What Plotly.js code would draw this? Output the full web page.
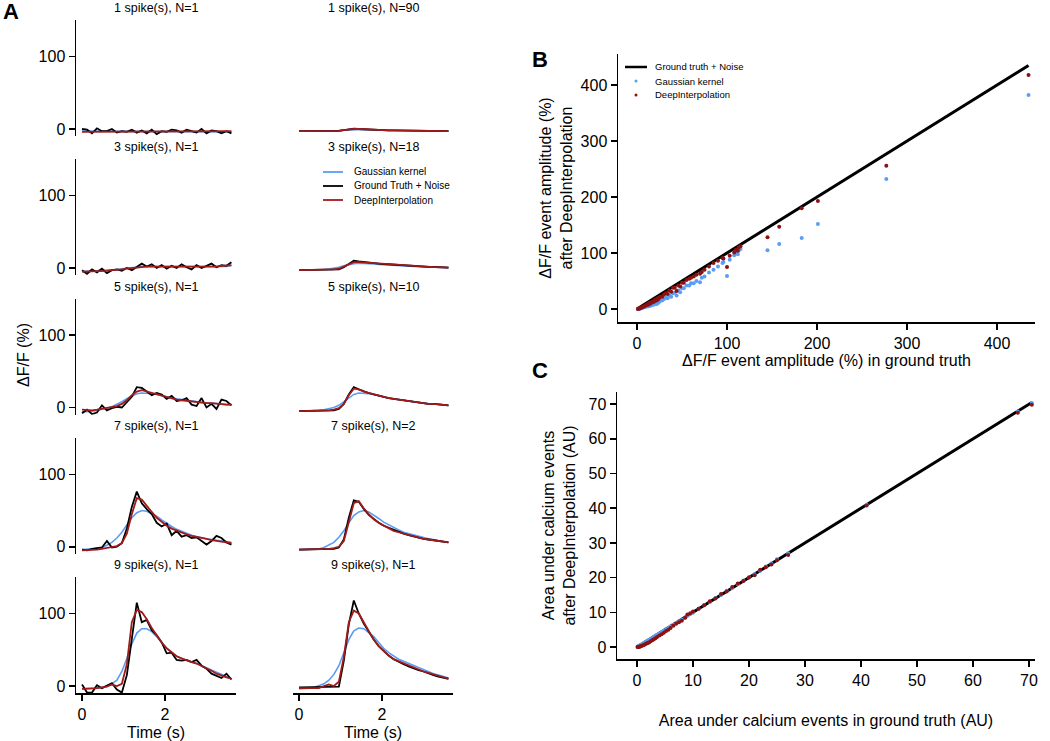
<!DOCTYPE html>
<html><head><meta charset="utf-8">
<script src="https://cdn.plot.ly/plotly-3.0.1.min.js"></script>
<style>html,body{margin:0;padding:0;background:#fff}</style>
</head><body><div id="chart" style="width:1050px;height:741px"></div>
<script>
// ---------- Panel A data ----------
const time = [0,0.12,0.24,0.36,0.48,0.6,0.72,0.84,0.96,1.08,1.2,1.32,1.44,1.56,1.68,1.8,1.92,2.04,2.16,2.28,2.4,2.52,2.64,2.76,2.88,3.0,3.12,3.24,3.36,3.48,3.6];
const titlesLeft = ['1 spike(s), N=1','3 spike(s), N=1','5 spike(s), N=1','7 spike(s), N=1','9 spike(s), N=1'];
const titlesRight = ['1 spike(s), N=90','3 spike(s), N=18','5 spike(s), N=10','7 spike(s), N=2','9 spike(s), N=1'];
const seriesNamesA = ['Gaussian kernel','Ground Truth + Noise','DeepInterpolation'];

// Ground truth + noise (black)
const gt_L1 = [0,-1,-6,1,-3,-3,0,-5,-3,-4,-1,-5,-2,-6,-1,-7,-3,-4,-1,-2,-5,-1,-3,-5,0,-6,-2,-3,-6,-3,-6];
const gt_R1 = [-3,-3,-3,-3,-3,-3,-3,-3,-2.5,-1.5,0,0.5,0,-0.5,-1,-1.5,-1.5,-2,-2,-2,-2,-2.5,-2.5,-2.5,-2.5,-2.5,-2.5,-3,-3,-3,-3];
const gt_L2 = [-3,-8,-2,-6,-1,-7,-3,-2,-4,0,-3,2,6,2,5,0,4,-1,3,0,5,1,-2,4,0,3,6,1,4,3,8];
const gt_R2 = [-3,-3,-3,-3,-3,-3,-3,-2.5,-2,1,6,10,9,8,7,6.5,6,5.5,5,4.5,4,3.5,3,2.5,2,2,1.5,1.5,1,1,0.5];
const gt_L3 = [-8,-3,-9,-7,3,-4,-1,1,0,8,15,28,27,22,17,20,18,12,16,9,10,13,4,2,13,0,5,-2,11,9,3];
const gt_R3 = [-5,-5,-5,-5,-5,-5,-5,-4,-2,5,18,28,25,22,20,18,16,14,13,12,11,10,9,8,7,6,5,5,4,4,3];
const gt_L4 = [-4,-5,-3,-2,-1,8,-1,0,5,25,55,76,60,52,45,33,28,32,16,22,14,16,12,13,8,3,8,15,12,6,3];
const gt_R4 = [-4,-4,-4,-4,-4,-4,-3,-3,-1,10,40,64,62,52,44,38,33,29,26,23,20,18,16,14,13,11,10,9,8,7,6];
const gt_L5 = [2,-9,-9,1,-3,1,4,-5,-9,15,62,115,88,91,77,70,60,45,46,36,35,36,33,36,28,24,17,14,11,17,9];
const gt_R5 = [-2,-2,-2,-2,-2,-2,-2,-2,-1,35,85,118,100,86,74,64,55,48,42,37,33,30,27,24,22,20,17,15,13,11,10];
// DeepInterpolation (red)
const di_L1 = [-4,-4,-4,-4,-4,-4,-4,-4,-4,-3.5,-3.5,-3.5,-3.5,-3.5,-3.5,-3.5,-3.5,-3.5,-3,-3,-3,-3,-3,-3,-3,-3,-3,-3,-3,-3,-3];
const di_R1 = [-3,-3,-3,-3,-3,-3,-3,-3,-2.5,-1.5,-0.5,0,0,-0.5,-1,-1.5,-1.5,-2,-2,-2,-2,-2.5,-2.5,-2.5,-2.5,-2.5,-2.5,-3,-3,-3,-3];
const di_L2 = [-5,-5,-5,-4,-4,-4,-3,-3,-2,-1,0,1,2,2,2,2,2,2,2,1,1,1,1,1,1,2,2,2,3,3,4];
const di_R2 = [-3,-3,-3,-3,-3,-3,-2.5,-2,-1,2,6,8,8,7.5,7,6.5,6,5.5,5,4.5,4,3.5,3,2.5,2,2,1.5,1.5,1,1,0.5];
const di_L3 = [-3,-4,-4,-3,-2,-1,0,2,5,10,17,22,24,22,20,18,16,14,12,11,10,9,8,7,7,6,6,5,5,4,4];
const di_R3 = [-5,-5,-5,-5,-5,-5,-4,-3,-1,5,17,26,25,22,20,18,16,14,13,12,11,10,9,8,7,6,5,5,4,4,3];
const di_L4 = [-5,-5,-4,-4,-3,-2,-1,1,5,18,45,67,65,56,48,40,34,29,25,22,19,17,15,14,12,11,9,8,7,6,5];
const di_R4 = [-4,-4,-4,-4,-4,-4,-3,-2,0,8,36,60,63,53,45,38,33,29,25,22,20,18,16,14,13,11,10,9,8,7,6];
const di_L5 = [-4,-4,-3,-3,-2,-1,2,0,3,30,88,105,102,92,80,70,60,52,46,41,38,35,33,31,28,25,21,17,14,12,10];
const di_R5 = [-3,-3,-3,-3,-3,0,2,0,6,40,88,104,100,88,75,64,55,48,42,37,34,31,29,26,22,20,18,16,14,12,10];
// Gaussian kernel (blue)
const gk_L1 = [-3,-3,-3.5,-3.5,-3.5,-4,-4,-4,-4,-4,-4,-4,-3.5,-3.5,-3.5,-3.5,-3.5,-3.5,-3.5,-3.5,-3.5,-3,-3,-3,-3,-3,-3.5,-3.5,-3.5,-4,-4];
const gk_R1 = [-3,-3,-3,-3,-3,-3,-3,-2.5,-2,-1.5,-1,-0.5,-0.5,-0.5,-1,-1.5,-1.5,-2,-2,-2,-2,-2.5,-2.5,-2.5,-2.5,-2.5,-2.5,-3,-3,-3,-3];
const gk_L2 = [-5,-5,-4,-4,-3,-3,-2,-2,-1,0,1,1,2,2,2,2,2,1,1,1,1,1,1,1,1,1,2,2,2,2,3];
const gk_R2 = [-3,-3,-3,-3,-2.5,-2,-1.5,-0.5,1,3,5,6,6.5,6.5,6,5.5,5,4.5,4,3.5,3,3,2.5,2,2,1.5,1.5,1,1,0.5,0.5];
const gk_L3 = [-6,-6,-5,-4,-3,-1,1,4,8,12,16,19,20,20,19,18,16,15,13,12,11,10,9,8,7,6,6,5,5,4,4];
const gk_R3 = [-5,-5,-5,-4,-4,-3,-2,0,3,8,13,18,20,20,19,18,16,15,13,12,11,10,9,8,7,6,5,5,4,4,3];
const gk_L4 = [-4,-4,-3,-2,-1,2,6,12,20,30,40,47,50,49,46,42,37,32,28,24,21,18,16,14,12,11,10,9,8,7,6];
const gk_R4 = [-4,-4,-4,-3,-3,-1,2,6,13,22,33,43,48,50,48,44,39,34,30,26,23,20,18,16,14,12,11,10,8,7,6];
const gk_L5 = [-4,-4,-3,-3,-2,0,3,8,20,38,58,73,79,79,75,68,60,52,46,41,38,35,33,31,28,25,21,18,15,12,10];
const gk_R5 = [-4,-4,-3,-2,0,3,8,16,28,45,64,76,80,79,74,68,60,52,46,41,37,34,31,28,25,22,19,17,15,13,11];
const aTicksY = [0,100];
const aTicksX = [0,2];

// ---------- Panel B data ----------
const seriesNamesBC = ['Ground truth + Noise','Gaussian kernel','DeepInterpolation'];
const bIdentity = [0,435];
const bGroundTruth = [1,2,3,4,5,6,7,8,9,10,11,12,13,14,15,16,17,18,19,20,21,22,23,24,25,26,28,30,32,34,36,38,40,42,44,46,48,50,52,55,58,60,63,66,70,72,75,80,85,90,95,96,100,103,108,110,112,113,115,145,158,183,201,277,435];
const bDeepInterp = [0,1,1,2,3,4,4,5,6,7,7,9,8,11,10,12,12,14,13,16,17,15,19,18,21,22,22,26,28,27,33,31,38,38,32,42,40,47,47,52,54,56,58,61,63,66,70,76,82,86,91,90,75,95,101,106,104,110,112,128,147,180,193,256,418];
const bGaussian = [0,0,1,1,2,2,3,3,4,4,5,5,5,7,6,8,7,9,8,10,11,9,13,11,14,15,15,18,20,19,24,22,28,29,24,33,30,37,37,42,42,46,46,50,48,56,58,65,70,76,82,84,59,88,96,100,98,104,107,105,116,127,152,232,382];

// ---------- Panel C data ----------
const cIdentity = [0,70.5];
const cGroundTruth = [0.1,0.2,0.3,0.5,0.6,0.8,1.0,1.2,1.4,1.6,1.8,2.0,2.2,2.5,2.8,3.0,3.3,3.6,4.0,4.4,4.8,5.2,5.6,6.0,6.5,7.0,7.5,8.0,8.6,9.0,9.5,10,11,12,13,14,15,16,17,18,19,20,21,22,23,24,25,27,41,68,70.5];
const cDeepInterp = [0,0,0,0.1,0.2,0.3,0.4,0.6,0.7,0.9,1.1,1.2,1.4,1.7,2.0,2.2,2.5,2.9,3.3,3.7,4.1,4.6,5.0,5.5,6.1,6.7,7.1,7.6,8.4,9.4,9.7,10.2,11,12,13.2,14,15.3,16,17.3,18.3,19,20,20.7,22.3,23,23.8,25,26.5,40.8,67.5,69.8];
const cGaussian = [0.1,0.2,0.3,0.4,0.6,0.7,0.9,1.1,1.3,1.5,1.7,1.9,2.1,2.4,2.7,2.9,3.2,3.5,3.9,4.3,4.7,5.1,5.5,5.9,6.4,6.9,7.4,7.9,8.5,9.0,9.5,9.9,11,12.1,13,14.1,15,16.2,17,18.1,19.2,20.1,21,22,23.2,24.1,25.3,27,41,67.9,70.3];

// ---------- Build ----------
const W = 1050, H = 741;
const PX = v => v / W, PY = v => 1 - v / H;
const FONT = 'Arial, "Liberation Sans", sans-serif';
const BLUE = '#5b9df3', RED = '#a11b1b', DARKRED = '#8c1111', BLACK = '#000000';

const gtRows = [[gt_L1,gt_R1],[gt_L2,gt_R2],[gt_L3,gt_R3],[gt_L4,gt_R4],[gt_L5,gt_R5]];
const diRows = [[di_L1,di_R1],[di_L2,di_R2],[di_L3,di_R3],[di_L4,di_R4],[di_L5,di_R5]];
const gkRows = [[gk_L1,gk_R1],[gk_L2,gk_R2],[gk_L3,gk_R3],[gk_L4,gk_R4],[gk_L5,gk_R5]];

const colPx = [[76,236],[293,453]];
const rowTopPx = [20.25,159.25,298.75,438,577.25];
const rowHPx = 116;
const xRangeA = [-0.145, 3.71];
const yRangeA = [-10, 150];

const data = [];
const layout = {
  width: W, height: H,
  margin: {l:0, r:0, t:0, b:0},
  paper_bgcolor: '#ffffff', plot_bgcolor: 'rgba(0,0,0,0)',
  font: {family: FONT, color: '#000', size: 16},
  showlegend: false,
  annotations: [], shapes: []
};

for (let r = 0; r < 5; r++) {
  for (let c = 0; c < 2; c++) {
    const k = r*2 + c + 1;
    const xa = k === 1 ? 'x' : 'x' + k, ya = k === 1 ? 'y' : 'y' + k;
    const seriesSet = [gkRows[r][c], gtRows[r][c], diRows[r][c]];
    const colors = [BLUE, BLACK, RED];
    const widths = [1.6, 1.8, 1.8];
    for (let s = 0; s < 3; s++) {
      data.push({type:'scatter', mode:'lines', x: time, y: seriesSet[s], xaxis: xa, yaxis: ya,
        name: seriesNamesA[s], line:{color: colors[s], width: widths[s]}, hoverinfo:'skip'});
    }
    const bottom = r === 4;
    layout['xaxis' + (k===1?'':k)] = {
      domain: [PX(colPx[c][0]), PX(colPx[c][1])], range: xRangeA, anchor: ya,
      showgrid:false, zeroline:false, showline: bottom, linecolor:'#000', linewidth:1.5,
      ticks: bottom ? 'outside' : '', ticklen:6, tickwidth:1.5, tickcolor:'#000',
      tickvals: aTicksX, showticklabels: bottom, tickfont:{size:16},
      title: bottom ? {text:'Time (s)', font:{size:16}, standoff:6} : {text:''}
    };
    layout['yaxis' + (k===1?'':k)] = {
      domain: [PY(rowTopPx[r] + rowHPx), PY(rowTopPx[r])], range: yRangeA, anchor: xa,
      showgrid:false, zeroline:false, showline: c === 0, linecolor:'#000', linewidth:1.5,
      ticks: c === 0 ? 'outside' : '', ticklen:6, tickwidth:1.5, tickcolor:'#000',
      tickvals: aTicksY, showticklabels: c === 0, tickfont:{size:16}
    };
    const title = c === 0 ? titlesLeft[r] : titlesRight[r];
    layout.annotations.push({text: title, xref:'paper', yref:'paper', showarrow:false,
      x: PX((colPx[c][0]+colPx[c][1])/2), y: PY(rowTopPx[r] - 12), xanchor:'center', yanchor:'middle',
      font:{size:12.5}});
  }
}

// Panel B
data.push({type:'scatter', mode:'lines', x:bIdentity, y:bIdentity, xaxis:'x11', yaxis:'y11', name:seriesNamesBC[0], line:{color:BLACK, width:3}});
data.push({type:'scatter', mode:'markers', x:bGroundTruth, y:bGaussian, xaxis:'x11', yaxis:'y11', name:seriesNamesBC[1], marker:{color:BLUE, size:4}});
data.push({type:'scatter', mode:'markers', x:bGroundTruth, y:bDeepInterp, xaxis:'x11', yaxis:'y11', name:seriesNamesBC[2], marker:{color:DARKRED, size:4}});
// Panel C
data.push({type:'scatter', mode:'lines', x:cIdentity, y:cIdentity, xaxis:'x12', yaxis:'y12', name:seriesNamesBC[0], line:{color:BLACK, width:3}});
data.push({type:'scatter', mode:'markers', x:cGroundTruth, y:cGaussian, xaxis:'x12', yaxis:'y12', name:seriesNamesBC[1], marker:{color:BLUE, size:4}});
data.push({type:'scatter', mode:'markers', x:cGroundTruth, y:cDeepInterp, xaxis:'x12', yaxis:'y12', name:seriesNamesBC[2], marker:{color:DARKRED, size:4}});

const axStyle = {showgrid:false, zeroline:false, showline:true, linecolor:'#000', linewidth:1.5,
  ticks:'outside', ticklen:6, tickwidth:1.5, tickcolor:'#000', tickfont:{size:16}, tick0:0};
layout.xaxis11 = Object.assign({}, axStyle, {domain:[PX(618),PX(1035)], range:[-21.1,442.2], dtick:100, anchor:'y11',
  title:{text:'ΔF/F event amplitude (%) in ground truth', font:{size:16}, standoff:1}});
layout.yaxis11 = Object.assign({}, axStyle, {domain:[PY(322),PY(54)], range:[-23.2,455.4], dtick:100, anchor:'x11',
  title:{text:'ΔF/F event amplitude (%)<br>after DeepInterpolation', font:{size:16}, standoff:4}});
layout.xaxis12 = Object.assign({}, axStyle, {domain:[PX(617),PX(1035)], range:[-3.57,71.07], dtick:10, anchor:'y12',
  title:{text:'Area under calcium events in ground truth (AU)', font:{size:16}, standoff:27}});
layout.yaxis12 = Object.assign({}, axStyle, {domain:[PY(659),PY(392)], range:[-3.46,73.5], dtick:10, anchor:'x12',
  title:{text:'Area under calcium events<br>after DeepInterpolation (AU)', font:{size:16}, standoff:9}});

// Panel letters & A y title
[['A',1,11],['B',530,60],['C',530,370]].forEach(([t,x,y]) => layout.annotations.push({
  text:'<b>'+t+'</b>', xref:'paper', yref:'paper', x:PX(x), y:PY(y), xanchor:'left', yanchor:'middle',
  showarrow:false, font:{size:22}}));
layout.annotations.push({text:'ΔF/F (%)', xref:'paper', yref:'paper', x:PX(23), y:PY(355), textangle:-90,
  xanchor:'center', yanchor:'middle', showarrow:false, font:{size:16}});

// Legend A (manual)
const legAColors = [BLUE, BLACK, RED];
seriesNamesA.forEach((n,i) => {
  const y = 172 + i*14;
  layout.shapes.push({type:'line', xref:'paper', yref:'paper', x0:PX(323), x1:PX(343), y0:PY(y), y1:PY(y), line:{color:legAColors[i], width:1.8}});
  layout.annotations.push({text:n, xref:'paper', yref:'paper', x:PX(352), y:PY(y), xanchor:'left', yanchor:'middle', showarrow:false, font:{size:10}});
});
// Legend B (manual)
seriesNamesBC.forEach((n,i) => {
  const y = 67 + i*14;
  if (i === 0) {
    layout.shapes.push({type:'line', xref:'paper', yref:'paper', x0:PX(625), x1:PX(647), y0:PY(y), y1:PY(y), line:{color:BLACK, width:2.5}});
  } else {
    const col = i === 1 ? BLUE : DARKRED;
    layout.shapes.push({type:'circle', xref:'paper', yref:'paper', x0:PX(634.5), x1:PX(637.5), y0:PY(y+1.5), y1:PY(y-1.5), fillcolor:col, line:{width:0}});
  }
  layout.annotations.push({text:n, xref:'paper', yref:'paper', x:PX(653), y:PY(y), xanchor:'left', yanchor:'middle', showarrow:false, font:{size:9.5}});
});

Plotly.newPlot('chart', data, layout, {displayModeBar:false, staticPlot:true});
</script></body></html>
